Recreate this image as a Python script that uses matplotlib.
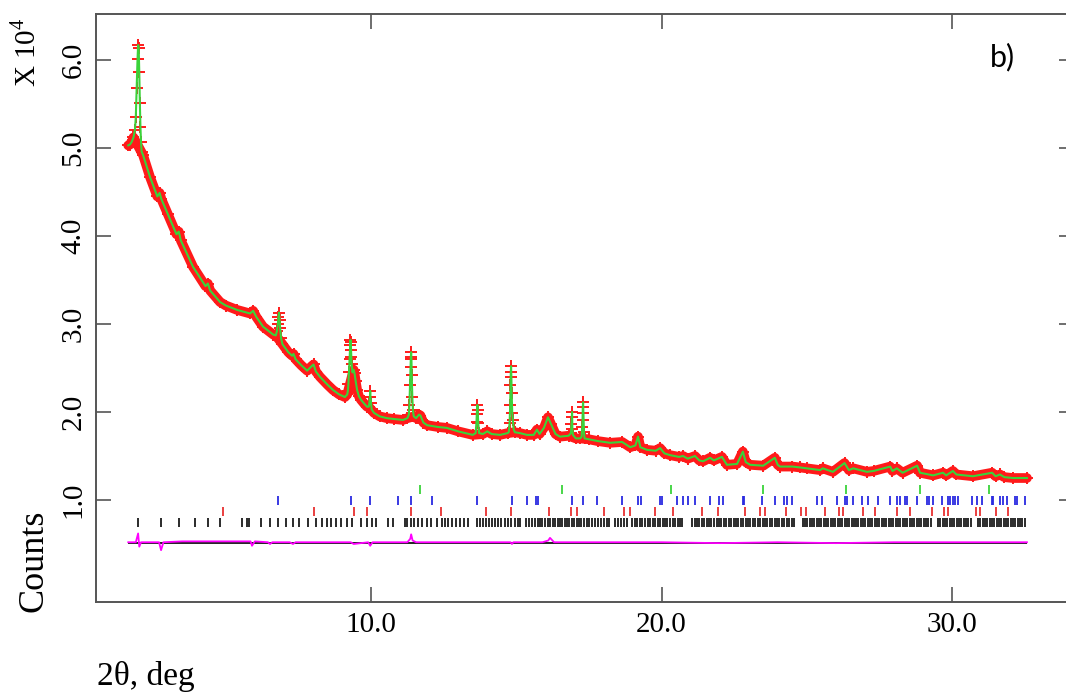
import matplotlib
matplotlib.use("Agg")
import matplotlib.pyplot as plt

plt.rcParams['font.family'] = ['Liberation Serif', 'DejaVu Serif']
plt.rcParams['mathtext.fontset'] = 'custom'
plt.rcParams['mathtext.rm'] = 'Liberation Serif'

# ---------------- data (counts in units of 10^4) ----------------
two_theta_obs = [
    1.64, 1.70, 1.76, 1.82, 1.87, 1.90, 1.93, 1.96, 1.98, 2.00, 2.02, 2.04, 2.06, 2.08, 2.10, 2.15,
    2.39, 2.64, 2.72, 2.78, 3.00, 3.30, 3.38, 3.45, 3.87, 4.30, 4.38, 4.46, 4.80, 5.00, 5.39, 5.83,
    5.94, 6.05, 6.28, 6.63, 6.72, 6.76, 6.79, 6.81, 6.83, 6.85, 6.87, 6.90, 6.95, 7.15, 7.28, 7.33,
    7.40, 7.60, 7.80, 7.95, 8.02, 8.10, 8.24, 8.50, 8.69, 8.90, 9.10,
    9.18, 9.20, 9.22, 9.24, 9.26, 9.28, 9.29, 9.30, 9.31, 9.32, 9.33, 9.36,
    9.40, 9.43, 9.47, 9.52, 9.58, 9.65, 9.75, 9.86,
    9.92, 9.94, 9.96, 9.97, 9.98, 10.00, 10.02, 10.10, 10.30, 10.55, 10.80, 11.10,
    11.25, 11.30, 11.32, 11.34, 11.36, 11.37, 11.38, 11.39, 11.40, 11.42, 11.44, 11.47,
    11.55, 11.65, 11.70, 11.80, 11.93, 12.30, 12.60, 13.00, 13.50,
    13.60, 13.63, 13.64, 13.66, 13.67, 13.69, 13.72, 13.85, 14.00, 14.15, 14.44, 14.70,
    14.74, 14.77, 14.79, 14.80, 14.81, 14.82, 14.83, 14.84, 14.86, 14.88, 14.91, 14.95,
    15.13, 15.37, 15.60, 15.71, 15.80, 15.95, 16.09, 16.20, 16.35, 16.50, 16.80,
    16.88, 16.90, 16.91, 16.92, 16.93, 16.95, 17.05, 17.20, 17.25, 17.27, 17.28, 17.29, 17.30, 17.31, 17.33, 17.35,
    17.50, 17.80, 18.23, 18.64, 18.92, 19.10, 19.19, 19.27, 19.50, 19.80, 19.95, 20.10, 20.29,
    20.60, 20.74, 20.90, 21.15, 21.30, 21.43, 21.67, 21.80, 22.08, 22.25, 22.60, 22.80, 22.90, 23.05,
    23.50, 23.90, 24.00, 24.08, 24.50, 24.77, 25.00, 25.46, 25.55, 25.90, 26.30, 26.45, 26.60, 27.07,
    27.30, 27.87, 27.95, 28.10, 28.30, 28.80, 28.90, 29.35, 29.69, 29.80, 30.03, 30.15, 30.72, 31.38,
    31.50, 31.65, 31.80, 32.10, 32.58,
]
counts_obs = [
    5.03, 5.04, 5.07, 5.12, 5.20, 5.35, 5.68, 6.01, 6.17, 6.14, 5.86, 5.51, 5.24, 5.07, 4.96, 4.92,
    4.67, 4.45, 4.49, 4.42, 4.25, 4.02, 4.05, 3.95, 3.65, 3.43, 3.46, 3.38, 3.25, 3.21, 3.16, 3.12,
    3.15, 3.08, 2.97, 2.88, 2.87, 2.92, 3.00, 3.08, 3.13, 3.05, 2.95, 2.84, 2.77, 2.68, 2.64, 2.66,
    2.60, 2.53, 2.47, 2.52, 2.54, 2.46, 2.40, 2.31, 2.25, 2.20, 2.17,
    2.20, 2.24, 2.32, 2.45, 2.60, 2.76, 2.82, 2.79, 2.70, 2.62, 2.55, 2.45,
    2.48, 2.44, 2.35, 2.25, 2.18, 2.14, 2.10, 2.06,
    2.06, 2.10, 2.17, 2.24, 2.17, 2.10, 2.03, 1.99, 1.95, 1.93, 1.92, 1.91,
    1.93, 1.97, 2.08, 2.31, 2.51, 2.63, 2.68, 2.60, 2.42, 2.17, 2.02, 1.95,
    1.93, 1.97, 1.96, 1.88, 1.85, 1.83, 1.82, 1.78, 1.74,
    1.76, 1.89, 1.98, 2.08, 2.02, 1.87, 1.76, 1.75, 1.78, 1.75, 1.74, 1.76,
    1.77, 1.88, 2.08, 2.31, 2.45, 2.52, 2.40, 2.22, 1.99, 1.91, 1.80, 1.77,
    1.76, 1.74, 1.74, 1.80, 1.75, 1.82, 1.94, 1.86, 1.75, 1.72, 1.73,
    1.76, 1.86, 1.94, 2.00, 1.81, 1.74, 1.70, 1.70, 1.72, 1.83, 1.91, 2.06, 2.11, 1.99, 1.77, 1.70,
    1.69, 1.67, 1.65, 1.66, 1.60, 1.62, 1.72, 1.60, 1.57, 1.56, 1.59, 1.53, 1.51,
    1.49, 1.50, 1.47, 1.50, 1.45, 1.44, 1.48, 1.45, 1.49, 1.40, 1.41, 1.55, 1.43, 1.40,
    1.39, 1.48, 1.40, 1.38, 1.38, 1.37, 1.36, 1.34, 1.36, 1.32, 1.42, 1.34, 1.36, 1.32,
    1.33, 1.38, 1.33, 1.36, 1.31, 1.39, 1.31, 1.28, 1.31, 1.28, 1.33, 1.29, 1.27, 1.31,
    1.27, 1.29, 1.26, 1.25, 1.25,
]
counts_calc = list(counts_obs)
assert len(two_theta_obs) == len(counts_obs)

two_theta_diff = [1.64, 1.90, 1.98, 2.02, 2.08, 2.30, 2.70, 2.77, 2.85, 3.50, 4.50, 5.50, 5.85, 5.90,
                  6.00, 6.45, 6.52, 6.60, 7.20, 7.31, 7.40, 8.50, 9.30, 9.40, 9.90, 9.97, 10.05,
                  11.25, 11.35, 11.38, 11.43, 11.55, 13.00, 14.80, 14.85, 14.90, 15.90, 16.10,
                  16.16, 16.30, 18.00, 20.00, 22.00, 24.00, 26.00, 28.00, 30.00, 32.58]
diff = [0.52, 0.52, 0.62, 0.47, 0.52, 0.52, 0.52, 0.43, 0.52, 0.53, 0.53, 0.53, 0.53, 0.48,
        0.53, 0.52, 0.50, 0.52, 0.52, 0.50, 0.52, 0.52, 0.52, 0.50, 0.52, 0.48, 0.52,
        0.52, 0.56, 0.61, 0.54, 0.52, 0.52, 0.52, 0.50, 0.52, 0.52, 0.54,
        0.57, 0.52, 0.52, 0.52, 0.51, 0.52, 0.51, 0.52, 0.52, 0.52]
diff_zero = 0.515

ticks_phase_green = [11.69, 16.57, 20.33, 23.49, 26.35, 28.90, 31.27]
ticks_phase_blue = [6.80, 9.31, 9.97, 10.93, 11.38, 12.10, 13.65, 14.85, 15.37, 15.68, 15.74, 16.92, 17.30,
                    17.78, 18.64, 19.19, 19.29, 19.95, 20.02, 20.53, 20.74, 20.91, 21.15, 21.67, 21.98,
                    22.12, 22.81, 22.84, 23.46, 23.91, 24.22, 24.32, 24.49, 25.35, 25.52, 26.04, 26.32,
                    26.39, 26.59, 26.90, 27.11, 27.45, 27.87, 28.11, 28.21, 28.38, 28.45, 28.80, 29.14,
                    29.21, 29.35, 29.66, 29.86, 29.93, 30.03, 30.10, 30.21, 30.69, 30.86, 31.03, 31.38,
                    31.41, 31.65, 31.76, 31.89, 32.17, 32.24, 32.51]
ticks_phase_red = [4.91, 8.04, 9.41, 9.86, 11.38, 12.41, 13.96, 14.82, 16.13, 16.88, 17.09, 18.02, 18.71,
                   18.92, 19.78, 20.40, 21.39, 21.94, 22.87, 23.39, 23.56, 24.29, 24.80, 24.97, 25.63,
                   26.11, 26.25, 26.94, 27.35, 28.11, 28.55, 29.31, 29.72, 29.86, 30.83, 30.96, 31.51,
                   31.93]
ticks_phase_black = [
    1.98, 2.77, 3.39, 3.94, 4.39, 4.80, 5.56, 5.73, 5.80, 6.21, 6.52, 6.80, 7.07, 7.31, 7.52, 7.83,
    8.11, 8.31, 8.49, 8.62, 8.80, 8.97, 9.17, 9.35, 9.66, 9.86, 10.03, 10.17, 10.59, 10.76, 11.17,
    11.24, 11.38, 11.48, 11.62, 11.76, 11.93, 12.07, 12.27, 12.44, 12.55, 12.65, 12.79, 12.93, 13.06,
    13.20, 13.34, 13.65, 13.76, 13.86, 13.97, 14.07, 14.17, 14.28, 14.38, 14.48, 14.60, 14.72, 14.83,
    14.95, 15.05, 15.13, 15.35, 15.45, 15.55, 15.64, 15.73, 15.82, 15.90, 15.99, 16.08, 16.17, 16.25,
    16.34, 16.42, 16.50, 16.58, 16.66, 16.75, 16.83, 16.91, 17.00, 17.08, 17.16, 17.24, 17.33, 17.42,
    17.50, 17.60, 17.70, 17.80, 17.92, 18.02, 18.12, 18.20, 18.40, 18.50, 18.60, 18.70, 18.80, 18.98,
    19.08, 19.16, 19.25, 19.34, 19.43, 19.52, 19.60, 19.70, 19.78, 19.87, 19.95, 20.04, 20.12, 20.20,
    20.30, 20.38, 20.47, 20.55, 20.64, 20.72, 21.05, 21.14, 21.22, 21.30, 21.39, 21.47, 21.56, 21.64,
    21.72, 21.80, 21.90, 21.98, 22.06, 22.15, 22.23, 22.31, 22.40, 22.48, 22.56, 22.64, 22.73, 22.81,
    22.90, 22.98, 23.06, 23.15, 23.23, 23.31, 23.40, 23.48, 23.56, 23.64, 23.73, 23.81, 23.90, 23.98,
    24.06, 24.15, 24.23, 24.31, 24.40, 24.48, 24.56, 24.86, 24.94, 25.02, 25.10, 25.18, 25.26, 25.34,
    25.42, 25.50, 25.58, 25.66, 25.74, 25.82, 25.90, 25.98, 26.06, 26.14, 26.22, 26.30, 26.38, 26.46,
    26.54, 26.62, 26.70, 26.78, 26.86, 26.94, 27.02, 27.10, 27.18, 27.26, 27.34, 27.42, 27.50, 27.58,
    27.66, 27.74, 27.82, 27.90, 27.98, 28.06, 28.14, 28.22, 28.30, 28.38, 28.46, 28.54, 28.62, 28.70,
    28.78, 28.86, 28.94, 29.02, 29.10, 29.18, 29.26, 29.52, 29.60, 29.68, 29.76, 29.84, 29.92, 30.00,
    30.08, 30.16, 30.24, 30.32, 30.40, 30.48, 30.56, 30.64, 30.90, 30.98, 31.06, 31.14, 31.22, 31.30,
    31.38, 31.46, 31.54, 31.62, 31.70, 31.78, 31.86, 31.94, 32.02, 32.10, 32.18, 32.26, 32.34, 32.42,
    32.50,
]
tick_rows = [
    (ticks_phase_green, 1.119, '#3ad33a'),
    (ticks_phase_blue, 0.994, '#2a2ae0'),
    (ticks_phase_red, 0.869, '#e83030'),
    (ticks_phase_black, 0.744, '#1a1a1a'),
]

x_ticks = [10.0, 20.0, 30.0]
x_tick_labels = ['10.0', '20.0', '30.0']
y_ticks = [1.0, 2.0, 3.0, 4.0, 5.0, 6.0]
y_tick_labels = ['1.0', '2.0', '3.0', '4.0', '5.0', '6.0']

# ---------------- figure ----------------
W, H = 1066, 695
fig = plt.figure(figsize=(W / 100, H / 100), dpi=100)
ax = fig.add_axes([96 / W, 93 / H, 978 / W, 588 / H])

# dense marker band: drawn through the points that are not on steep peak flanks
n = len(two_theta_obs)
band_x, band_y = [], []
for i in range(n):
    slopes = []
    if i > 0:
        slopes.append(abs(counts_obs[i] - counts_obs[i - 1]) / (two_theta_obs[i] - two_theta_obs[i - 1]))
    if i < n - 1:
        slopes.append(abs(counts_obs[i + 1] - counts_obs[i]) / (two_theta_obs[i + 1] - two_theta_obs[i]))
    if max(slopes) < 2.6:
        band_x.append(two_theta_obs[i])
        band_y.append(counts_obs[i])

red = '#ff1a1a'
ax.plot(band_x, band_y, color=red, lw=7.0, solid_joinstyle='round',
        solid_capstyle='round', zorder=2)
ax.plot(two_theta_obs, counts_obs, linestyle='none', marker='+', ms=9, mew=1.4,
        color=red, zorder=2)
ax.plot(two_theta_obs, counts_calc, color='#3ad33a', lw=1.5, zorder=3)

for positions, yc, col in tick_rows:
    ax.vlines(positions, yc - 0.05, yc + 0.05, colors=col, lw=1.3, zorder=2)

ax.hlines(diff_zero, two_theta_diff[0], two_theta_diff[-1], colors='#222222', lw=1.4, zorder=2)
ax.plot(two_theta_diff, diff, color='#ff00ff', lw=1.3, zorder=3)

ax.set_xlim(0.53, 34.2)
ax.set_ylim(-0.159, 6.523)
ax.set_xticks(x_ticks)
ax.set_xticklabels(x_tick_labels)
ax.set_yticks(y_ticks)
ax.set_yticklabels(y_tick_labels, rotation=90, va='center')

spine_col = '#555555'
for s in ax.spines.values():
    s.set_color(spine_col)
    s.set_linewidth(1.4)
ax.tick_params(axis='both', direction='in', length=11, width=1.2, color=spine_col,
               labelsize=21, top=True, right=True)
ax.tick_params(axis='x', pad=7)
ax.tick_params(axis='y', pad=7)

fig.text(26 / W, 1 - 52 / H, r'X 10$^{\mathrm{4}}$', rotation=90, ha='center', va='center', fontsize=21)
fig.text(34 / W, 1 - 561 / H, 'Counts', rotation=90, ha='center', va='center', fontsize=26)
fig.text(97 / W, 1 - 676 / H, '2θ, deg', ha='left', va='center', fontsize=24)
fig.text(1002 / W, 1 - 57 / H, 'b)', ha='center', va='center', fontsize=22,
         family=['Lato', 'DejaVu Sans'])

fig.savefig('out.png', dpi=100)
